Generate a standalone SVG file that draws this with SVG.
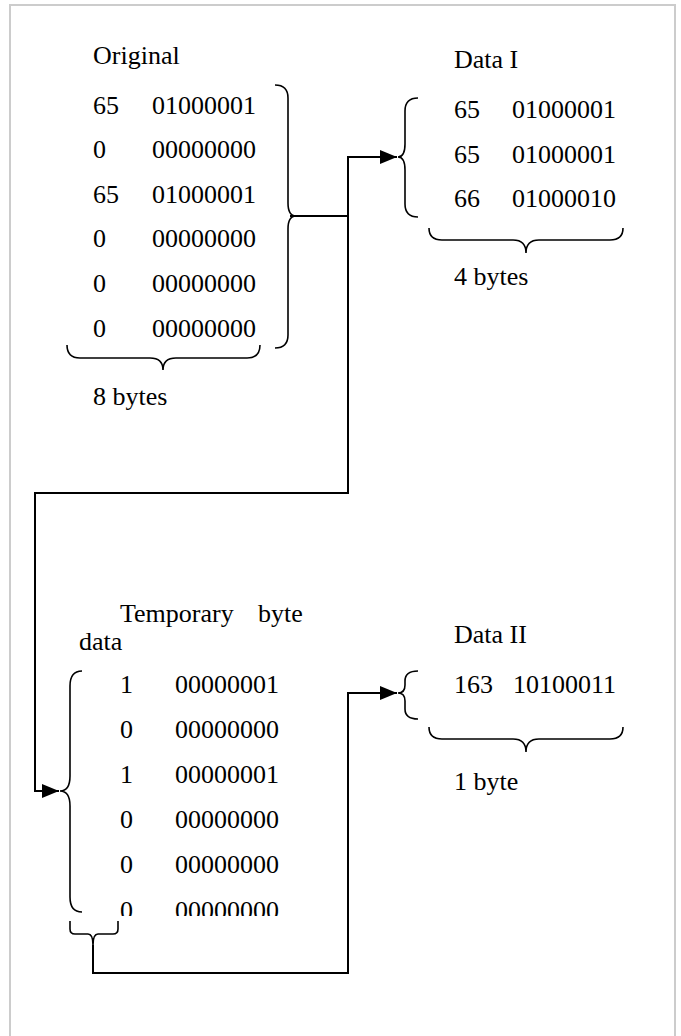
<svg xmlns="http://www.w3.org/2000/svg" width="681" height="1036" viewBox="0 0 681 1036">
<style>
text{font-family:"Liberation Serif","Times New Roman",serif;font-size:26px;fill:#000}
.brace{fill:none;stroke:#000;stroke-width:1.6}
.conn{fill:none;stroke:#000;stroke-width:2}
</style>
<defs>
<marker id="arr" markerUnits="userSpaceOnUse" markerWidth="18" markerHeight="14" refX="17" refY="7" orient="auto">
<path d="M0,0 L17,7 L0,14 Z" fill="#000"/>
</marker>
<clipPath id="clipTemp"><rect x="0" y="0" width="681" height="916"/></clipPath>
</defs>
<rect x="10" y="5" width="665" height="1040" fill="#fff" stroke="#cccccc" stroke-width="2"/>
<g id="original">
<text x="93" y="64">Original</text>
<text x="93" y="114">65</text><text x="152" y="114">01000001</text>
<text x="93" y="158">0</text><text x="152" y="158">00000000</text>
<text x="93" y="203">65</text><text x="152" y="203">01000001</text>
<text x="93" y="247">0</text><text x="152" y="247">00000000</text>
<text x="93" y="292">0</text><text x="152" y="292">00000000</text>
<text x="93" y="337">0</text><text x="152" y="337">00000000</text>
<path class="brace" d="M275,85 Q288,85 288,98 V203 Q288,216 296,216 Q288,216 288,229 V335 Q288,348 275,348"/>
<path class="brace" d="M67,345 Q67,358 80,358 H150 Q163,358 163,370 Q163,358 176,358 H247 Q260,358 260,345"/>
<text x="93" y="405">8 bytes</text>
</g>
<g id="data1">
<text x="454" y="68">Data I</text>
<text x="454" y="118">65</text><text x="512" y="118">01000001</text>
<text x="454" y="163">65</text><text x="512" y="163">01000001</text>
<text x="454" y="207">66</text><text x="512" y="207">01000010</text>
<path class="brace" d="M418,98 Q405,98 405,111 V144 Q405,157 398,157 Q405,157 405,170 V204 Q405,217 418,217"/>
<path class="brace" d="M429,228 Q429,240 442,240 H513 Q526,240 526,253 Q526,240 539,240 H610 Q623,240 623,228"/>
<text x="454" y="285">4 bytes</text>
</g>
<g id="temporary">
<text y="622"><tspan x="120">Temporary</tspan><tspan x="258">byte</tspan></text>
<text x="79" y="650">data</text>
<g clip-path="url(#clipTemp)">
<text x="120" y="693">1</text><text x="175" y="693">00000001</text>
<text x="120" y="738">0</text><text x="175" y="738">00000000</text>
<text x="120" y="783">1</text><text x="175" y="783">00000001</text>
<text x="120" y="828">0</text><text x="175" y="828">00000000</text>
<text x="120" y="873">0</text><text x="175" y="873">00000000</text>
<text x="120" y="919">0</text><text x="175" y="919">00000000</text>
</g>
<path class="brace" d="M82,671 Q70,671 70,686 V776 Q70,791 60,791 Q70,791 70,806 V897 Q70,912 82,912"/>
<path class="brace" d="M70,921 V929 Q70,934 75,934 H88 Q93,934 93,945 Q93,934 98,934 H113 Q118,934 118,929 V921"/>
</g>
<g id="data2">
<text x="454" y="643">Data II</text>
<text x="454" y="693">163</text><text x="513" y="693">10100011</text>
<path class="brace" d="M418,671 Q405,671 405,681 V685 Q405,693 398,693 Q405,693 405,701 V709 Q405,719 418,719"/>
<path class="brace" d="M429,727 Q429,739 442,739 H513 Q526,739 526,752 Q526,739 539,739 H610 Q623,739 623,727"/>
<text x="454" y="790">1 byte</text>
</g>
<g id="connectors">
<path class="conn" d="M290,216 H348 V157 H397" marker-end="url(#arr)"/>
<path class="conn" d="M348,216 V493 H35 V791 H59" marker-end="url(#arr)"/>
<path class="conn" d="M93,945 V973 H348 V693 H397" marker-end="url(#arr)"/>
</g>
</svg>
